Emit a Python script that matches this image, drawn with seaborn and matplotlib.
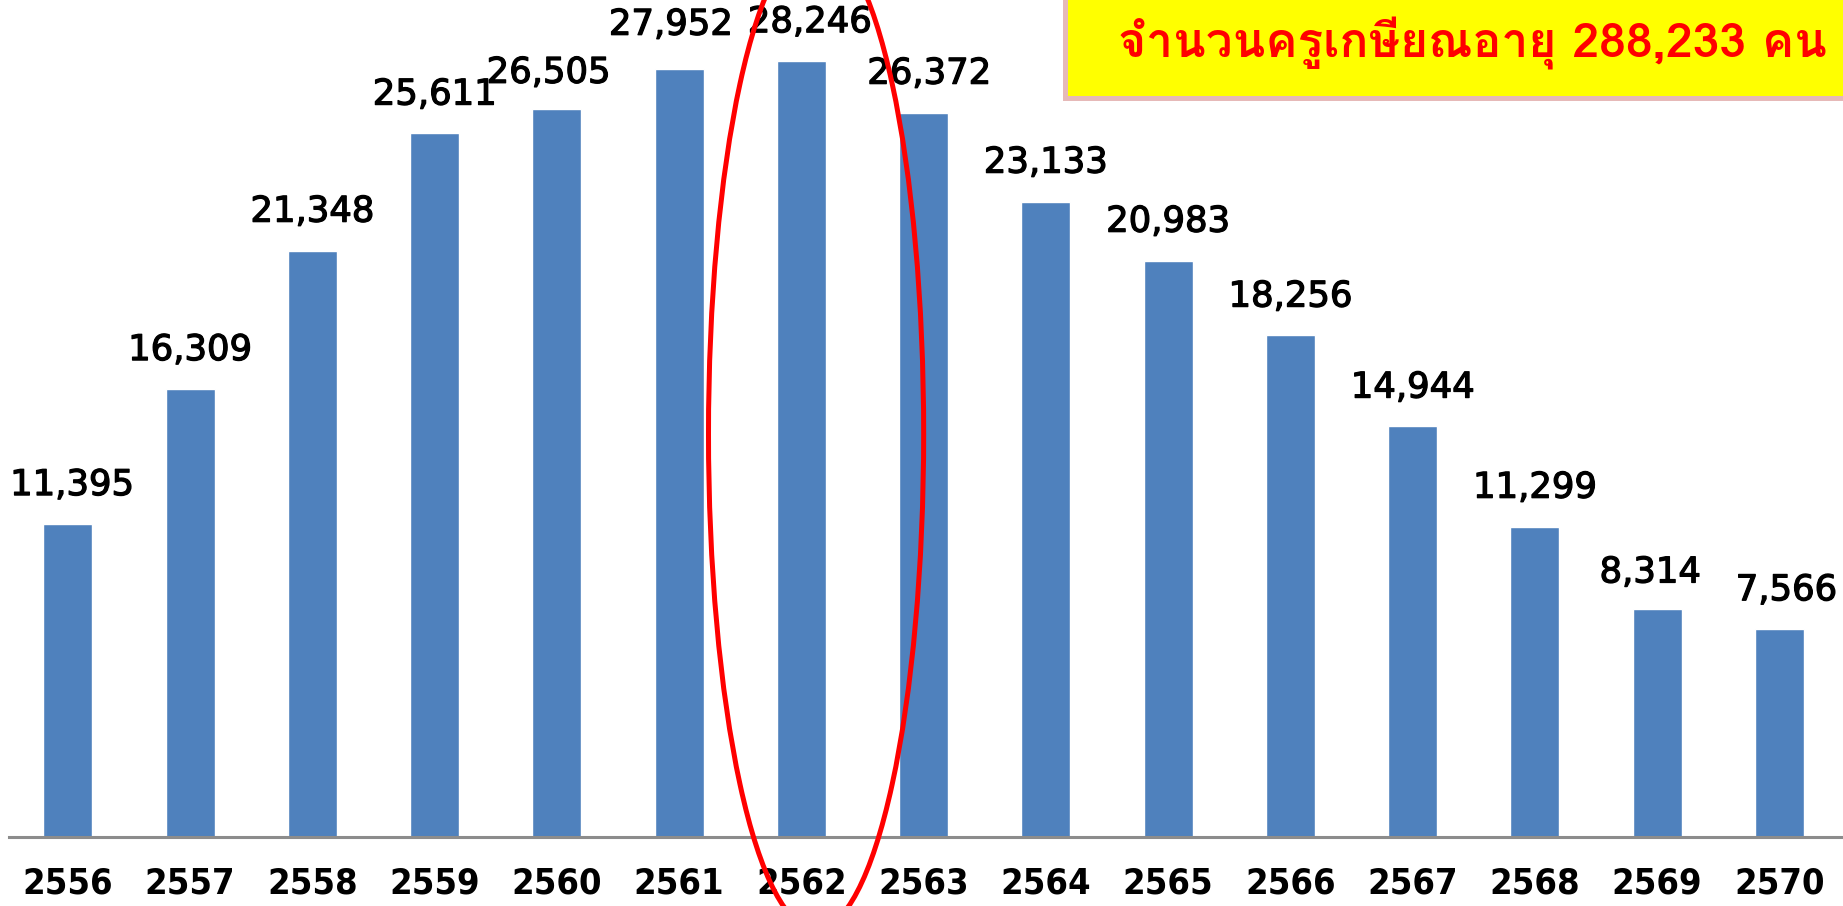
import numpy as np
import pandas as pd
import seaborn as sns
import matplotlib
matplotlib.use("Agg")
import matplotlib.pyplot as plt
import matplotlib.patheffects as pe
from matplotlib.patches import Ellipse, Rectangle

# Données : nombre de départs à la retraite par année (ปี พ.ศ.)
annees = ["2556", "2557", "2558", "2559", "2560", "2561", "2562", "2563",
          "2564", "2565", "2566", "2567", "2568", "2569", "2570"]
retraites = [11395, 16309, 21348, 25611, 26505, 27952, 28246, 26372,
             23133, 20983, 18256, 14944, 11299, 8314, 7566]
titre = "จำนวนครูเกษียณอายุ 288,233 คน"
annee_cible = "2562"

# Petits décalages manuels des étiquettes (en points), comme dans l'original
decalages = {"2556": (3, 0), "2560": (-6, -2), "2561": (-6, 4),
             "2562": (6, 0), "2563": (4, 0), "2569": (-5, -2), "2570": (5, 0)}

df = pd.DataFrame({"annee": annees, "retraites": retraites})

sns.set_theme(style="white")
plt.rcParams["font.family"] = ["Loma", "DejaVu Sans"]

fig = plt.figure(figsize=(18.43, 9.06), dpi=100)
ax = fig.add_axes([0.005, 0.0762, 0.995, 0.9238])

sns.barplot(
    data=df,
    x="annee",
    y="retraites",
    color="#4f81bd",
    width=0.4,
    saturation=1,
    ax=ax,
)

ax.set_xlim(-0.48, 14.52)
ax.set_ylim(0, 30470)

# Étiquettes de valeurs au-dessus des barres (un peu épaissies)
for i, (annee, valeur) in enumerate(zip(annees, retraites)):
    dx, dy = decalages.get(annee, (0, 0))
    ax.annotate(
        f"{valeur:,}",
        xy=(i, valeur),
        xytext=(dx, 28 + dy),
        textcoords="offset points",
        ha="center",
        va="center",
        fontsize=25.5,
        family="DejaVu Sans",
        color="black",
        path_effects=[pe.withStroke(linewidth=0.9, foreground="black")],
    )

ax.set_xlabel("")
ax.set_ylabel("")
ax.set_yticks([])
ax.tick_params(axis="x", length=0, pad=21, labelsize=26)
for label in ax.get_xticklabels():
    label.set_fontweight("bold")
    label.set_family("DejaVu Sans")
    label.set_stretch("condensed")
    label.set_color("black")

for cote in ["top", "right", "left"]:
    ax.spines[cote].set_visible(False)
ax.spines["bottom"].set_color("#8c8c8c")
ax.spines["bottom"].set_linewidth(2.2)

# Ellipse rouge autour de l'année cible
i_cible = annees.index(annee_cible)
ax.add_patch(Ellipse(
    (i_cible + 0.12, 14670),
    width=1.76,
    height=36075,
    fill=False,
    edgecolor="#ff0000",
    linewidth=3.6,
    clip_on=False,
    zorder=5,
))

# Encadré jaune du titre (ombre rose à gauche et en bas)
W, H = 1843, 906
fig.add_artist(Rectangle(
    (1063 / W, 1 - 101 / H), 1, 1,
    transform=fig.transFigure, facecolor="#e6b9b8", edgecolor="none", zorder=9,
))
fig.add_artist(Rectangle(
    (1068 / W, 1 - 96 / H), 1, 1,
    transform=fig.transFigure, facecolor="#ffff00", edgecolor="none", zorder=9,
))
fig.text(
    1472 / W,
    1 - 44 / H,
    titre,
    ha="center",
    va="center",
    fontsize=34.5,
    fontweight="bold",
    color="#ff0000",
    zorder=10,
)

fig.savefig("out.png", dpi=100)
